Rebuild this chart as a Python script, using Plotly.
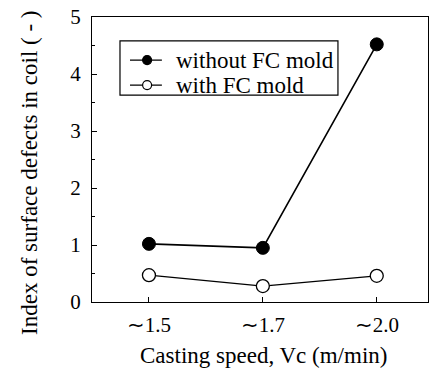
import plotly.graph_objects as go

categories = ["\u223c1.5", "\u223c1.7", "\u223c2.0"]
without_fc = [1.02, 0.95, 4.52]
with_fc = [0.47, 0.28, 0.46]
series_names = ["without FC mold", "with FC mold"]

font_family = "Liberation Serif, Times New Roman, serif"

fig = go.Figure()
fig.add_trace(go.Scatter(
    x=categories, y=without_fc, mode="lines+markers", name=series_names[0],
    line=dict(color="black", width=1.6),
    marker=dict(symbol="circle", size=13, color="black", line=dict(color="black", width=1)),
    showlegend=False,
))
fig.add_trace(go.Scatter(
    x=categories, y=with_fc, mode="lines+markers", name=series_names[1],
    line=dict(color="black", width=1.2),
    marker=dict(symbol="circle", size=13, color="white", line=dict(color="black", width=1.3)),
    showlegend=False,
))

# Manual legend (box, key lines, key markers, labels) in paper coordinates
shapes = [
    dict(type="rect", xref="paper", yref="paper", x0=0.0833, x1=0.732, y0=0.726, y1=0.916,
         line=dict(color="black", width=1.2), fillcolor="white", layer="above"),
]
annotations = []
rows = [0.849, 0.761]
fills = ["black", "white"]
for name, ry, fc in zip(series_names, rows, fills):
    shapes.append(dict(type="line", xref="paper", yref="paper", x0=0.113, x1=0.208, y0=ry, y1=ry,
                       line=dict(color="black", width=1.3), layer="above"))
    shapes.append(dict(type="circle", xref="paper", yref="paper", xsizemode="pixel", ysizemode="pixel",
                       xanchor=0.164, yanchor=ry, x0=-4.5, x1=4.5, y0=-4.5, y1=4.5,
                       fillcolor=fc, line=dict(color="black", width=1.2), layer="above"))
    annotations.append(dict(text=name, xref="paper", yref="paper", x=0.245, y=ry,
                            xanchor="left", yanchor="middle", showarrow=False,
                            font=dict(size=23, family=font_family, color="black")))

# Axis titles
annotations.append(dict(text="Index of surface defects in coil ( - )", xref="paper", yref="paper",
                        x=-0.1845, y=0.453, xanchor="center", yanchor="middle", textangle=-90,
                        showarrow=False, font=dict(size=23, family=font_family, color="black")))
annotations.append(dict(text="Casting speed, Vc (m/min)", xref="paper", yref="paper",
                        x=0.509, y=-0.186, xanchor="center", yanchor="middle",
                        showarrow=False, font=dict(size=23, family=font_family, color="black")))

fig.update_layout(
    width=433, height=382,
    margin=dict(l=92, r=5, t=17, b=80),
    paper_bgcolor="white", plot_bgcolor="white",
    font=dict(family=font_family, color="black", size=20),
    showlegend=False,
    shapes=shapes,
    annotations=annotations,
    xaxis=dict(
        type="category", range=[-0.5, 2.45],
        showline=True, linecolor="black", linewidth=1.2, mirror=True,
        ticks="inside", ticklen=5, tickcolor="black",
        showgrid=False, zeroline=False,
        tickfont=dict(size=21), ticklabelstandoff=4,
    ),
    yaxis=dict(
        range=[0, 5], dtick=1,
        showline=True, linecolor="black", linewidth=1.2, mirror=True,
        ticks="inside", ticklen=5, tickcolor="black",
        minor=dict(ticks="inside", ticklen=3, dtick=0.5, tickcolor="black"),
        showgrid=False, zeroline=False,
        tickfont=dict(size=21), ticklabelstandoff=6,
    ),
)

fig.write_html("out.html")
